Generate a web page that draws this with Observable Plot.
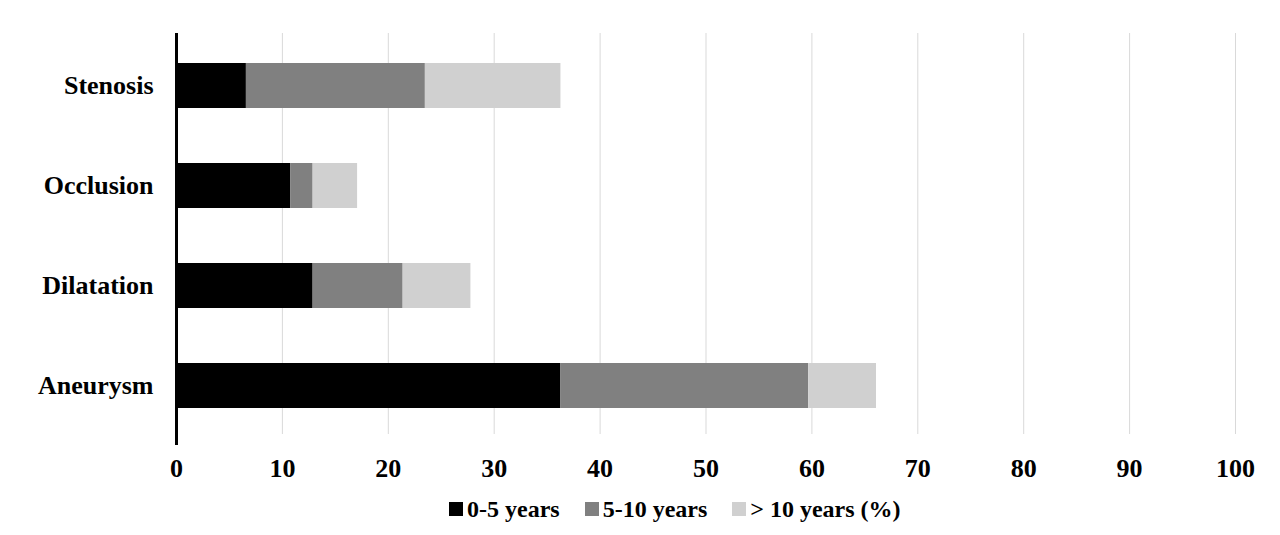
<!DOCTYPE html>
<html>
<head>
<meta charset="utf-8">
<script src="https://cdn.jsdelivr.net/npm/d3@7"></script>
<script src="https://cdn.jsdelivr.net/npm/@observablehq/plot@0.6"></script>
<style>
  html, body { margin: 0; padding: 0; background: #fff; }
  #wrap { position: relative; width: 1280px; height: 535px; overflow: hidden; }
  #legend {
    position: absolute; left: 449px; top: 497px; height: 24px;
    display: flex; align-items: center;
    font-family: "Liberation Serif", "Times New Roman", serif; font-weight: bold; font-size: 24px; color: #000;
  }
  .item { display: flex; align-items: center; margin-right: 25px; }
  .sw { width: 14px; height: 14px; margin-right: 4px; }
</style>
</head>
<body>
<div id="wrap"><div id="chart"></div><div id="legend"></div></div>
<script>
const categories = ["Stenosis", "Occlusion", "Dilatation", "Aneurysm"];
const series = ["0-5 years", "5-10 years", "> 10 years (%)"];
const years0to5 = [6.6, 10.8, 12.9, 36.3];
const years5to10 = [16.9, 2.1, 8.5, 23.4];
const yearsOver10 = [12.8, 4.2, 6.4, 6.4];
const colors = ["#000000", "#808080", "#d0d0d0"];
const xTicks = [0, 10, 20, 30, 40, 50, 60, 70, 80, 90, 100];

const seriesValues = [years0to5, years5to10, yearsOver10];
const data = [];
categories.forEach((c, i) => {
  series.forEach((s, j) => data.push({category: c, series: s, value: seriesValues[j][i]}));
});

const font = "'Liberation Serif', 'Times New Roman', serif";

const chart = Plot.plot({
  width: 1280,
  height: 490,
  marginLeft: 176,
  marginRight: 45,
  marginTop: 35,
  marginBottom: 55,
  style: {fontFamily: font, fontWeight: "bold", color: "#000", background: "#fff"},
  x: {domain: [0, 100], ticks: xTicks},
  y: {domain: categories, paddingInner: 0.553, paddingOuter: 0.2765},
  color: {domain: series, range: colors},
  marks: [
    Plot.gridX(xTicks, {stroke: "#d9d9d9", strokeOpacity: 1, strokeWidth: 1, insetTop: -2, insetBottom: 1}),
    Plot.barX(data, {x: "value", y: "category", fill: "series"}),
    Plot.ruleX([0], {stroke: "#000", strokeWidth: 3, insetTop: -2, insetBottom: -10}),
    Plot.axisX({ticks: xTicks, tickSize: 0, tickPadding: 23, fontSize: 26, fontWeight: "bold", label: null}),
    Plot.axisY({tickSize: 0, tickPadding: 23, fontSize: 26, fontWeight: "bold", label: null})
  ]
});
document.getElementById("chart").appendChild(chart);

const legend = document.getElementById("legend");
series.forEach((s, j) => {
  const item = document.createElement("div");
  item.className = "item";
  const sw = document.createElement("span");
  sw.className = "sw";
  sw.style.background = colors[j];
  const t = document.createElement("span");
  t.textContent = s;
  item.appendChild(sw);
  item.appendChild(t);
  legend.appendChild(item);
});
</script>
</body>
</html>
